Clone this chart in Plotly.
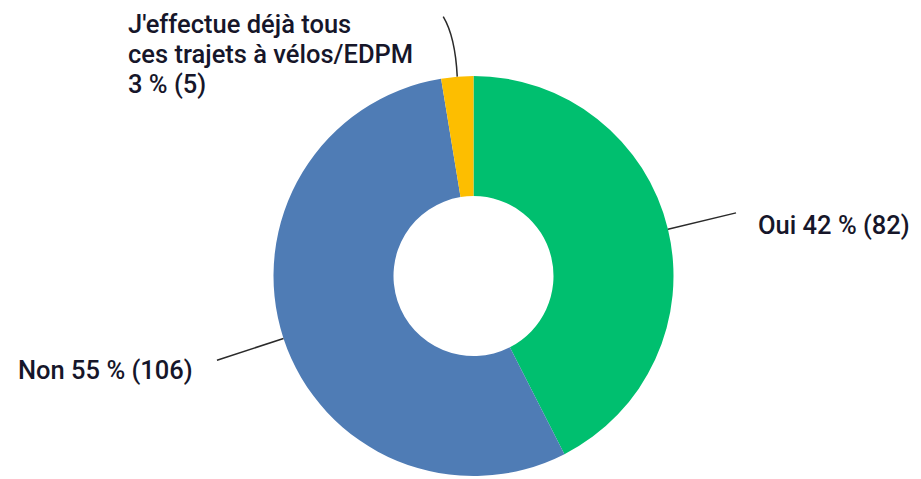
import math
import plotly.graph_objects as go

# Survey answers
labels = ["Oui", "Non", "J'effectue déjà tous<br>ces trajets à vélos/EDPM"]
counts = [82, 106, 5]
percents = [42, 55, 3]
colors = ["#00BF6F", "#4F7CB5", "#FDBE00"]

W, H = 921, 479
CX, CY, R = 473.5, 276, 200  # donut centre and radius in pixels
HOLE = 0.4

fig = go.Figure()
fig.add_trace(go.Pie(
    labels=labels,
    values=counts,
    hole=HOLE,
    sort=False,
    direction="clockwise",
    rotation=0,
    marker=dict(colors=colors, line=dict(width=0)),
    textinfo="none",
    hoverinfo="label+value+percent",
    showlegend=False,
    domain=dict(x=[(CX - R) / W, (CX + R) / W], y=[(H - CY - R) / H, (H - CY + R) / H]),
))


def px(x, y):
    return x / W, 1 - y / H


def polar(angle_deg, r):
    a = math.radians(angle_deg)
    return CX + r * math.sin(a), CY - r * math.cos(a)


total = sum(counts)
mids = []
acc = 0
for c in counts:
    mids.append((acc + c / 2) / total * 360)
    acc += c

TXT = "#16162a"
FONT = dict(family="Roboto", size=25.5, color=TXT, weight=500)
LINE = dict(color="#2a2a2a", width=1.5)


def label(x, y, text, anchor):
    fx, fy = px(x, y)
    fig.add_annotation(xref="paper", yref="paper", x=fx, y=fy,
                       xanchor=anchor, yanchor="middle", showarrow=False,
                       text=text, font=FONT)


# Oui leader line and label
x0, y0 = polar(mids[0], R)
x1, y1 = polar(mids[0], R + 70)
ax0, ay0 = px(x0, y0)
ax1, ay1 = px(x1, y1)
fig.add_shape(type="line", xref="paper", yref="paper", x0=ax0, y0=ay0, x1=ax1, y1=ay1, line=LINE)
label(x1 + 20, y1 + 12, f"{labels[0]} {percents[0]} % ({counts[0]})", "left")

# Non leader line and label
x0, y0 = polar(mids[1], R)
x1, y1 = polar(mids[1], R + 70)
ax0, ay0 = px(x0, y0)
ax1, ay1 = px(x1, y1)
fig.add_shape(type="line", xref="paper", yref="paper", x0=ax0, y0=ay0, x1=ax1, y1=ay1, line=LINE)
label(x1 - 22, y1 + 10, f"{labels[1]} {percents[1]} % ({counts[1]})", "right")

# Small slice: curved leader going up to the label on the left
x0, y0 = polar(mids[2], R)
x1, y1 = x0 - 14, y0 - 60
qx, qy = x0 - 2, y0 - 40
p0, pq, p1 = px(x0, y0), px(qx, qy), px(x1, y1)
fig.add_shape(type="path", xref="paper", yref="paper",
              path=f"M {p0[0]},{p0[1]} Q {pq[0]},{pq[1]} {p1[0]},{p1[1]}",
              line=LINE)
top_lines = labels[2].split("<br>") + [f"{percents[2]} % ({counts[2]})"]
for i, t in enumerate(top_lines):
    label(126, 24 + 30 * i, t, "left")

fig.update_layout(
    width=W, height=H,
    margin=dict(l=0, r=0, t=0, b=0),
    paper_bgcolor="white",
    plot_bgcolor="white",
)

fig.write_html("out.html")
